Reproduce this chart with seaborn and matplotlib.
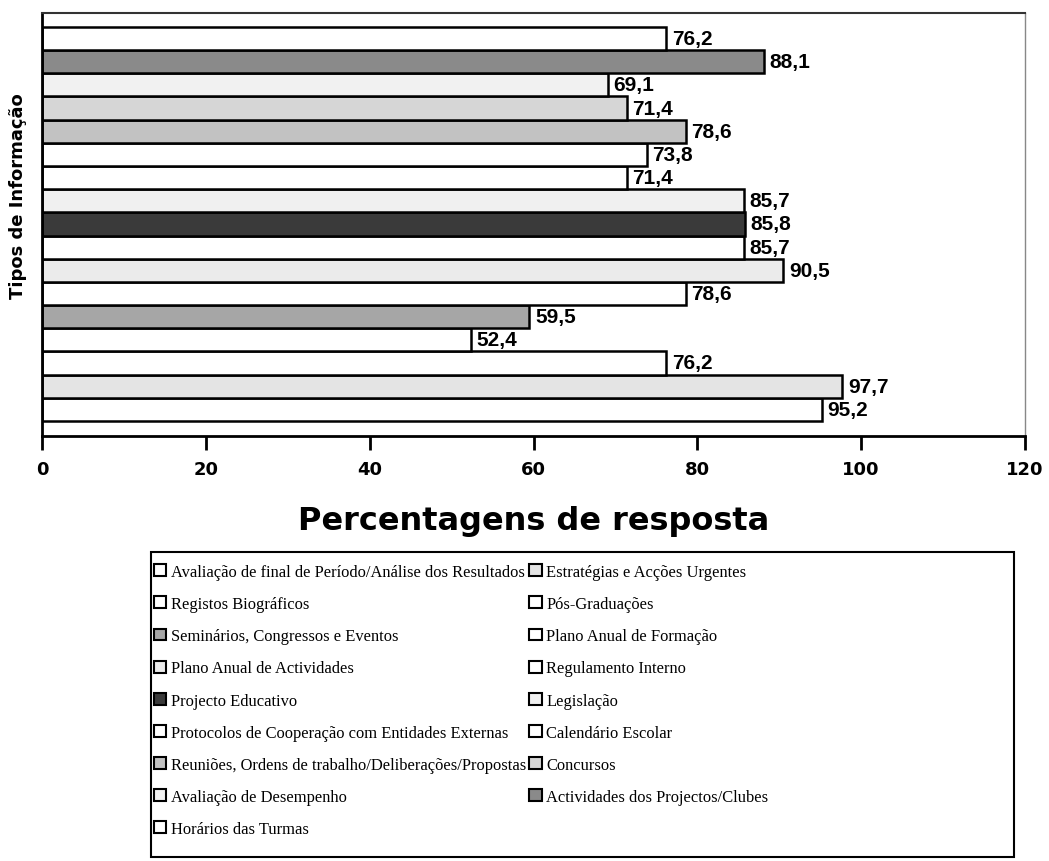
import matplotlib
matplotlib.use("Agg")
import matplotlib.pyplot as plt
import seaborn as sns
import pandas as pd
from matplotlib.patches import Patch, Rectangle

# Series in legend order (first series is drawn at the bottom of the chart)
tipos = [
    "Avaliação de final de Período/Análise dos Resultados",
    "Estratégias e Acções Urgentes",
    "Registos Biográficos",
    "Pós-Graduações",
    "Seminários, Congressos e Eventos",
    "Plano Anual de Formação",
    "Plano Anual de Actividades",
    "Regulamento Interno",
    "Projecto Educativo",
    "Legislação",
    "Protocolos de Cooperação com Entidades Externas",
    "Calendário Escolar",
    "Reuniões, Ordens de trabalho/Deliberações/Propostas",
    "Concursos",
    "Avaliação de Desempenho",
    "Actividades dos Projectos/Clubes",
    "Horários das Turmas",
]
percentagens = [95.2, 97.7, 76.2, 52.4, 59.5, 78.6, 90.5, 85.7, 85.8,
                85.7, 71.4, 73.8, 78.6, 71.4, 69.1, 88.1, 76.2]
cores = ["#ffffff", "#e4e4e4", "#ffffff", "#ffffff", "#a6a6a6", "#ffffff",
         "#ebebeb", "#ffffff", "#3a3a3a", "#f0f0f0", "#ffffff", "#ffffff",
         "#c2c2c2", "#d6d6d6", "#f1f1f1", "#8a8a8a", "#ffffff"]

sns.set_theme(style="white")
plt.rcParams['font.family'] = ['Liberation Sans', 'DejaVu Sans']
plt.rcParams.update({"text.color": "black", "axes.labelcolor": "black",
                     "xtick.color": "black", "ytick.color": "black"})

df = pd.DataFrame({"tipo": tipos, "pct": percentagens})
paleta = dict(zip(tipos, cores))

fig = plt.figure(figsize=(10.49, 8.62), dpi=100)
ax = fig.add_axes([42 / 1049, 1 - 437 / 862, (1025 - 42) / 1049, (437 - 14) / 862])

sns.barplot(data=df, x="pct", y="tipo", hue="tipo", order=tipos[::-1],
            hue_order=tipos, palette=paleta, width=1.0, saturation=1,
            edgecolor="black", linewidth=1.8, legend=False, orient="h", ax=ax)

for cont in ax.containers:
    ax.bar_label(cont, fmt=lambda v: f"{v:.1f}".replace(".", ","), padding=4,
                 fontsize=15, fontweight="bold", color="black")

heavy = {"family": "DejaVu Sans", "weight": "bold"}

ax.set_xlim(0, 120)
ax.set_ylim(17.15, -1.10)
ax.set_xticks(range(0, 121, 20))
ax.set_xticklabels([str(t) for t in range(0, 121, 20)], fontsize=13, **heavy)
ax.set_yticks([])
ax.tick_params(axis="x", direction="out", length=10, width=2, color="black",
               pad=7, bottom=True)

ax.set_xlabel("Percentagens de resposta", fontsize=23, **heavy)
ax.xaxis.set_label_coords(0.5, -0.199)
ax.xaxis.label.set_va("center")
ax.set_ylabel("Tipos de Informação", fontsize=13, **heavy)
ax.yaxis.set_label_coords(-0.024, 0.57)
ax.yaxis.label.set_va("center")

for side in ("left", "bottom"):
    ax.spines[side].set_color("black")
    ax.spines[side].set_linewidth(2)
ax.spines["top"].set_color("#333333")
ax.spines["top"].set_linewidth(1.5)
ax.spines["right"].set_color("#888888")
ax.spines["right"].set_linewidth(1)

# Legend: two columns, entries laid out row by row
handles = [Patch(facecolor=c, edgecolor="black", linewidth=1.5) for c in cores]
ordem_leg = list(range(0, 17, 2)) + list(range(1, 17, 2))
fig.legend([handles[i] for i in ordem_leg], [tipos[i] for i in ordem_leg],
           ncol=2, loc="upper left", bbox_to_anchor=(154 / 1049, 1 - 565 / 862),
           frameon=False, borderpad=0, borderaxespad=0,
           prop={"family": "Liberation Serif", "size": 11.85},
           handlelength=0.73, handleheight=0.73, handletextpad=0.3,
           labelspacing=0.98, columnspacing=0.2)
fig.add_artist(Rectangle((151 / 1049, 1 - 858 / 862), (1014 - 151) / 1049,
                         (858 - 553) / 862, transform=fig.transFigure,
                         fill=False, edgecolor="black", linewidth=1.5))

fig.savefig("out.png", dpi=100)
